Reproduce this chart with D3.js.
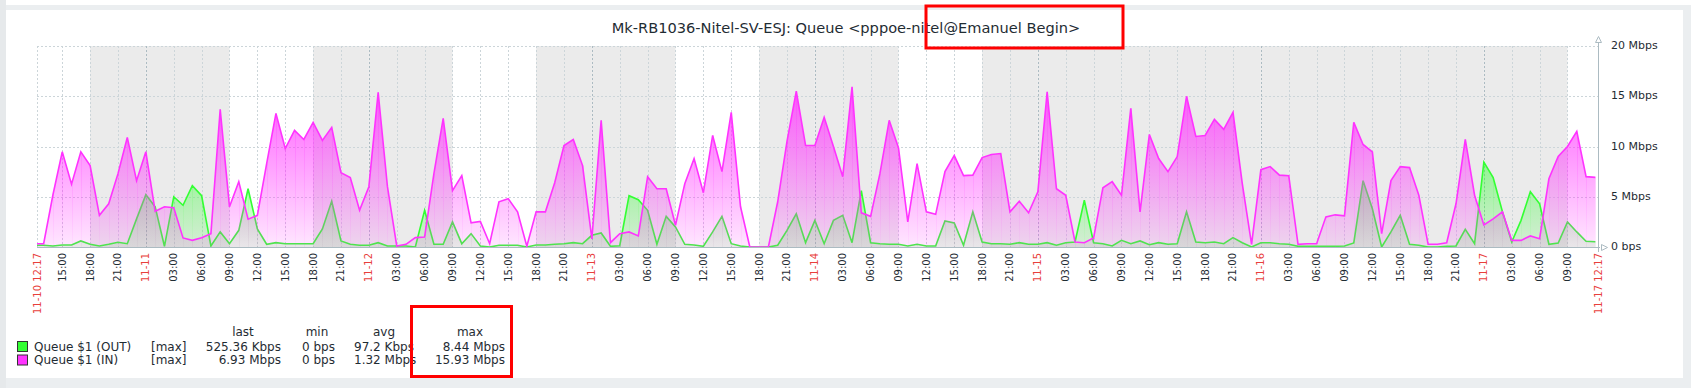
<!DOCTYPE html>
<html>
<head>
<meta charset="utf-8">
<script src="https://cdn.jsdelivr.net/npm/d3@7"></script>
<style>
html, body { margin: 0; padding: 0; background: #fff; }
svg { display: block; font-family: "DejaVu Sans", sans-serif; }
</style>
</head>
<body>
<div id="chart"></div>
<script>
// hourly max values in Mbps, first point 2025-11-10 12:00
var title = "Mk-RB1036-Nitel-SV-ESJ: Queue <pppoe-nitel@Emanuel Begin>";
var seriesNames = ["Queue $1 (OUT)", "Queue $1 (IN)"];
var seriesColors = ["#33ff33", "#ff33ff"];
var outValues = [
  0.17, 0.17, 0.1, 0.2, 0.2, 0.6, 0.27, 0.1, 0.27, 0.47, 0.33, 2.8, 5.2, 4.0, 0.07, 5.0, 4.15, 6.1, 5.1, 0.1,
  1.5, 0.33, 1.66, 5.8, 1.8, 0.27, 0.43, 0.33, 0.33, 0.33, 0.33, 1.8, 4.55, 0.6, 0.27, 0.17, 0.17, 0.43, 0.1, 0.1,
  0.1, 0, 3.65, 0.27, 0.27, 2.5, 0.33, 1.33, 0.1, 0, 0.17, 0.17, 0.17, 0, 0.2, 0.2, 0.27, 0.33, 0.43, 0.33,
  1.16, 1.4, 0.07, 0.13, 5.1, 4.7, 3.65, 0.27, 3.05, 2.0, 0.27, 0.2, 0.07, 1.5, 3.05, 0.33, 0.1, 0, 0, 0,
  0.17, 1.66, 3.3, 0.43, 2.65, 0.33, 2.65, 3.15, 0.43, 5.6, 0.43, 0.33, 0.27, 0.27, 0.1, 0.27, 0.1, 0.1, 2.6, 2.4,
  0.17, 3.5, 0.5, 0.33, 0.33, 0.27, 0.43, 0.27, 0.27, 0.43, 0.17, 0.43, 0.5, 4.65, 0.43, 0.33, 0.1, 0.66, 0.33, 0.6,
  0.23, 0.43, 0.27, 0.33, 3.5, 0.5, 0.43, 0.5, 0.33, 0.93, 0.43, 0, 0.43, 0.43, 0.33, 0.27, 0.07, 0.07, 0.07, 0.07,
  0.07, 0.1, 0.4, 6.6, 3.8, 0, 1.5, 3.15, 0.27, 0.17, 0, 0, 0.07, 0.1, 1.76, 0.33, 8.44, 6.9, 3.5, 0.5,
  2.65, 5.5, 4.3, 0.27, 0.4, 2.5, 1.5, 0.57, 0.52
];
var inValues = [
  0.33, 0.33, 5.2, 9.47, 6.25, 9.47, 8.1, 3.15, 4.3, 7.3, 10.9, 6.6, 9.47, 3.55, 4.0, 3.9, 0.9, 0.66, 0.93, 1.33,
  13.7, 4.0, 6.5, 2.76, 3.15, 8.3, 13.3, 9.8, 11.6, 10.7, 12.4, 10.6, 11.9, 7.4, 6.9, 3.65, 6.0, 15.4, 6.0, 0.1,
  0.27, 0.93, 1.0, 7.3, 12.8, 5.6, 7.1, 2.4, 2.55, 0.33, 4.5, 4.8, 3.5, 0.07, 3.5, 3.5, 6.4, 10.1, 10.7, 8.1,
  0.8, 12.6, 0.43, 1.33, 1.5, 1.1, 7.0, 5.8, 5.8, 2.16, 6.3, 8.8, 5.4, 11.1, 7.5, 13.4, 4.0, 0, 0, 0,
  4.5, 10.5, 15.5, 10.1, 10.1, 12.9, 10.0, 7.0, 15.93, 3.4, 3.05, 7.3, 12.6, 9.87, 2.5, 8.3, 3.5, 3.25, 7.5, 9.1,
  7.1, 7.15, 8.9, 9.2, 9.3, 3.5, 4.55, 3.4, 5.5, 15.45, 5.8, 5.15, 0.5, 0.43, 0.9, 5.9, 6.5, 5.15, 13.8, 3.5,
  11.2, 8.8, 7.5, 9.0, 15.0, 11.0, 11.1, 12.7, 11.7, 13.4, 6.3, 0.27, 7.7, 8.0, 7.15, 7.1, 0.27, 0.33, 0.33, 3.0,
  3.2, 3.1, 12.4, 10.2, 9.47, 1.33, 6.6, 8.0, 7.9, 5.15, 0.27, 0.27, 0.43, 4.3, 10.7, 5.15, 2.2, 2.8, 3.5, 0.66,
  0.66, 1.1, 0.83, 6.8, 9.0, 10.0, 11.5, 7.0, 6.93
];
var legendHeaders = ["last", "min", "avg", "max"];
var legendOut = ["525.36 Kbps", "0 bps", "97.2 Kbps", "8.44 Mbps"];
var legendIn = ["6.93 Mbps", "0 bps", "1.32 Mbps", "15.93 Mbps"];
var yTicks = [0, 5, 10, 15, 20];
var yTickLabels = ["0 bps", "5 Mbps", "10 Mbps", "15 Mbps", "20 Mbps"];

var W = 1691, H = 388;
var plotLeft = 37, plotRight = 1598, plotTop = 46, plotBottom = 247;
var start = new Date(2025, 10, 10, 12, 17), end = new Date(2025, 10, 17, 12, 17);
var firstPoint = new Date(2025, 10, 10, 12, 0);

var x = d3.scaleTime().domain([start, end]).range([plotLeft, plotRight]);
var y = d3.scaleLinear().domain([0, 20]).range([plotBottom, plotTop]);

var svg = d3.select("#chart").append("svg")
    .attr("width", W)
    .attr("height", H);

// page frame
svg.append("rect").attr("width", W).attr("height", H).attr("fill", "#fff");
svg.append("rect").attr("x", 0).attr("y", 0).attr("width", 6).attr("height", H).attr("fill", "#e6e9eb");
svg.append("rect").attr("x", 6).attr("y", 5).attr("width", W - 6).attr("height", 5).attr("fill", "#ebeef0");
svg.append("rect").attr("x", 1683).attr("y", 5).attr("width", 8).attr("height", H).attr("fill", "#ebeef0");
svg.append("rect").attr("x", 6).attr("y", 378).attr("width", W - 6).attr("height", 10).attr("fill", "#ebeef0");

svg.append("text")
    .attr("x", 846).attr("y", 29)
    .attr("text-anchor", "middle")
    .attr("dominant-baseline", "middle")
    .attr("font-size", "14.6px")
    .attr("fill", "#1f2c33")
    .text(title);

var defs = svg.append("defs");
defs.append("clipPath").attr("id", "plotclip")
    .append("rect").attr("x", plotLeft).attr("y", plotTop - 2)
    .attr("width", plotRight - plotLeft).attr("height", plotBottom - plotTop + 2);

seriesColors.forEach(function(c, i) {
    var g = defs.append("linearGradient")
        .attr("id", "grad" + i)
        .attr("gradientUnits", "userSpaceOnUse")
        .attr("x1", 0).attr("y1", plotTop).attr("x2", 0).attr("y2", plotBottom);
    g.append("stop").attr("offset", "0%").attr("stop-color", c).attr("stop-opacity", 0.97);
    g.append("stop").attr("offset", "100%").attr("stop-color", c).attr("stop-opacity", 0.12);
});

// non-working time (Mon-Fri 09:00-18:00 is working time)
var nonWork = [];
d3.timeDay.range(d3.timeDay.floor(start), d3.timeDay.offset(end, 1)).forEach(function(day) {
    var dow = day.getDay();
    var next = d3.timeDay.offset(day, 1);
    if (dow === 0 || dow === 6) {
        nonWork.push([day, next]);
    } else {
        nonWork.push([day, d3.timeHour.offset(day, 9)]);
        nonWork.push([d3.timeHour.offset(day, 18), next]);
    }
});

var plot = svg.append("g");
plot.append("rect")
    .attr("x", plotLeft).attr("y", plotTop)
    .attr("width", plotRight - plotLeft).attr("height", plotBottom - plotTop)
    .attr("fill", "#fff");
plot.selectAll(".nw")
    .data(nonWork.filter(function(p) { return p[1] > start && p[0] < end; }))
    .enter().append("rect")
    .attr("class", "nw")
    .attr("x", function(p) { return x(p[0] < start ? start : p[0]); })
    .attr("width", function(p) { return x(p[1] > end ? end : p[1]) - x(p[0] < start ? start : p[0]); })
    .attr("y", plotTop)
    .attr("height", plotBottom - plotTop)
    .attr("fill", "#ebebeb");

// grid
var ticks = d3.timeHour.every(3).range(start, end).filter(function(t) {
    return (end - t) >= 3600000 && (t - start) >= 3600000;
});
plot.selectAll(".hgrid")
    .data(yTicks.slice(1))
    .enter().append("line")
    .attr("x1", plotLeft).attr("x2", plotRight)
    .attr("y1", function(d) { return Math.round(y(d)) + 0.5; })
    .attr("y2", function(d) { return Math.round(y(d)) + 0.5; })
    .attr("stroke", "#ccd5d9")
    .attr("stroke-dasharray", "2,2");
plot.selectAll(".vgrid")
    .data([start].concat(ticks))
    .enter().append("line")
    .attr("x1", function(d) { return Math.round(x(d)) + 0.5; })
    .attr("x2", function(d) { return Math.round(x(d)) + 0.5; })
    .attr("y1", plotTop).attr("y2", plotBottom)
    .attr("stroke", function(d) { return d.getHours() === 0 ? "#acbbc2" : "#ccd5d9"; })
    .attr("stroke-dasharray", "2,2");

// series
var series = [outValues, inValues].map(function(vals) {
    return vals.map(function(v, i) { return { t: d3.timeHour.offset(firstPoint, i), v: v }; });
});
var area = d3.area()
    .x(function(d) { return x(d.t); })
    .y0(plotBottom)
    .y1(function(d) { return y(d.v); });
var line = d3.line()
    .x(function(d) { return x(d.t); })
    .y(function(d) { return y(d.v); });

var data = plot.append("g").attr("clip-path", "url(#plotclip)");
series.forEach(function(s, i) {
    data.append("path")
        .datum(s)
        .attr("d", area)
        .attr("fill", "url(#grad" + i + ")");
    data.selectAll(".seg" + i)
        .data(s)
        .enter().append("line")
        .attr("x1", function(d) { return Math.round(x(d.t)) + 0.5; })
        .attr("x2", function(d) { return Math.round(x(d.t)) + 0.5; })
        .attr("y1", function(d) { return y(d.v); })
        .attr("y2", plotBottom)
        .attr("stroke", "url(#grad" + i + ")")
        .attr("stroke-opacity", 0.35);
    data.append("path")
        .datum(s)
        .attr("d", line)
        .attr("fill", "none")
        .attr("stroke", seriesColors[i])
        .attr("stroke-width", 1.6);
});

// axes
svg.append("line")
    .attr("x1", plotLeft).attr("x2", plotRight + 2)
    .attr("y1", plotBottom + 0.5).attr("y2", plotBottom + 0.5)
    .attr("stroke", "#acbbc2");
svg.append("line")
    .attr("x1", plotRight + 0.5).attr("x2", plotRight + 0.5)
    .attr("y1", 40).attr("y2", plotBottom + 5)
    .attr("stroke", "#acbbc2");
svg.append("path")
    .attr("d", "M" + (plotRight - 2.5) + ",42.5 L" + (plotRight + 0.5) + ",36.5 L" + (plotRight + 3.5) + ",42.5 Z")
    .attr("fill", "#fff").attr("stroke", "#acbbc2");
svg.append("path")
    .attr("d", "M" + (plotRight + 3.5) + "," + (plotBottom - 2.5) + " L" + (plotRight + 9.5) + "," + (plotBottom + 0.5) +
        " L" + (plotRight + 3.5) + "," + (plotBottom + 3.5) + " Z")
    .attr("fill", "#fff").attr("stroke", "#acbbc2");

svg.selectAll(".ylab")
    .data(yTicks)
    .enter().append("text")
    .attr("x", 1611)
    .attr("y", function(d) { return y(d); })
    .attr("dominant-baseline", "middle")
    .attr("font-size", "11px")
    .attr("fill", "#1f2c33")
    .text(function(d, i) { return yTickLabels[i]; });

// time labels
var fmtDay = d3.timeFormat("%m-%d"), fmtHour = d3.timeFormat("%H:%M"), fmtFull = d3.timeFormat("%m-%d %H:%M");
var labels = [{ t: start, s: fmtFull(start), red: true }]
    .concat(ticks.map(function(t) {
        var mid = t.getHours() === 0;
        return { t: t, s: mid ? fmtDay(t) : fmtHour(t), red: mid };
    }))
    .concat([{ t: end, s: fmtFull(end), red: true }]);
svg.selectAll(".xlab")
    .data(labels)
    .enter().append("text")
    .attr("transform", function(d) { return "translate(" + (x(d.t) + 0.5) + ",253) rotate(-90)"; })
    .attr("text-anchor", "end")
    .attr("dominant-baseline", "middle")
    .attr("font-size", "10px")
    .attr("fill", function(d) { return d.red ? "#e8403c" : "#1f2c33"; })
    .text(function(d) { return d.s; });

// legend
var lg = svg.append("g").attr("font-size", "12px").attr("fill", "#1f2c33");
var headX = [243, 317, 384, 470];
legendHeaders.forEach(function(h, i) {
    lg.append("text").attr("x", headX[i]).attr("y", 332)
        .attr("text-anchor", "middle").attr("dominant-baseline", "middle").text(h);
});
[legendOut, legendIn].forEach(function(row, r) {
    var cy = 347 + r * 13.5;
    lg.append("rect")
        .attr("x", 17.5).attr("y", cy - 5.5)
        .attr("width", 10).attr("height", 10)
        .attr("fill", seriesColors[r]).attr("stroke", "#333");
    lg.append("text").attr("x", 34).attr("y", cy).attr("dominant-baseline", "middle").text(seriesNames[r]);
    lg.append("text").attr("x", 151).attr("y", cy).attr("dominant-baseline", "middle").text("[max]");
    lg.append("text").attr("x", 281).attr("y", cy).attr("text-anchor", "end").attr("dominant-baseline", "middle").text(row[0]);
    lg.append("text").attr("x", 302).attr("y", cy).attr("dominant-baseline", "middle").text(row[1]);
    lg.append("text").attr("x", 354).attr("y", cy).attr("dominant-baseline", "middle").text(row[2]);
    lg.append("text").attr("x", 505).attr("y", cy).attr("text-anchor", "end").attr("dominant-baseline", "middle").text(row[3]);
});

// highlight boxes
svg.append("rect").attr("x", 926).attr("y", 6).attr("width", 197).attr("height", 42)
    .attr("fill", "none").attr("stroke", "#f00").attr("stroke-width", 3);
svg.append("rect").attr("x", 411.5).attr("y", 306.5).attr("width", 100).attr("height", 70)
    .attr("fill", "none").attr("stroke", "#f00").attr("stroke-width", 3);
</script>
</body>
</html>
